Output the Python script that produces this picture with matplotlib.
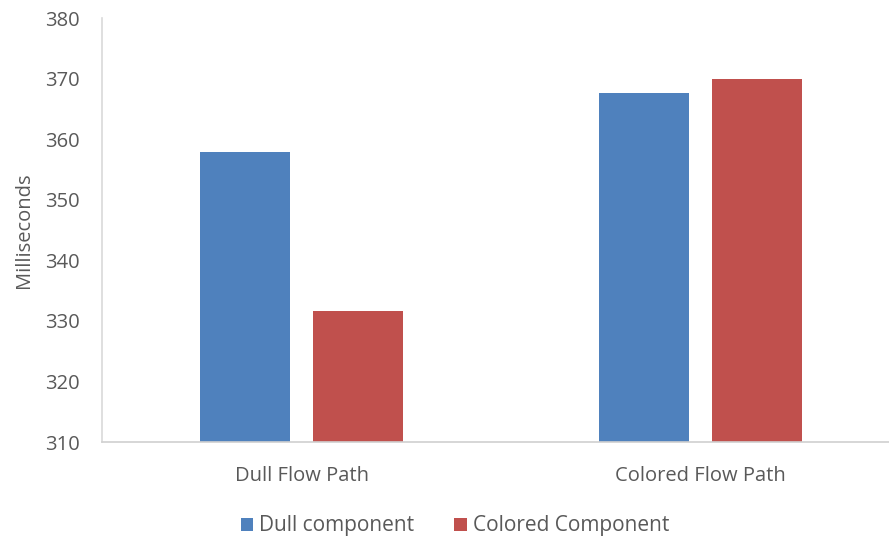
import numpy as np
import matplotlib.pyplot as plt

categories = ['Dull Flow Path', 'Colored Flow Path']
dull_component = [357.8, 367.7]
colored_component = [331.7, 369.85]
series_names = ['Dull component', 'Colored Component']

plt.rcParams['font.family'] = ['Open Sans', 'DejaVu Sans']
text_color = '#595959'

fig = plt.figure(figsize=(8.89, 5.4), dpi=100)
ax = fig.add_axes([102 / 889, 98 / 540, 787 / 889, 424 / 540])

x = np.arange(len(categories))
w = 0.224
off = 0.142
ax.bar(x - off, dull_component, w, color='#4F81BD', label=series_names[0], zorder=2)
ax.bar(x + off, colored_component, w, color='#C0504D', label=series_names[1], zorder=2)

ax.set_ylim(310, 380)
ax.set_yticks(range(310, 381, 10))
ax.set_xlim(-0.5, 1.5 - 11 / 398)
ax.set_xticks(x)
ax.set_xticklabels(categories)
ax.tick_params(axis='both', length=0, labelsize=14.5, colors=text_color)
ax.tick_params(axis='x', pad=17)
ax.tick_params(axis='y', pad=16)

for side in ['top', 'right']:
    ax.spines[side].set_visible(False)
ax.spines['left'].set_color('#D9D9D9')
ax.spines['bottom'].set_color('#D0D0D0')
ax.spines['left'].set_linewidth(1.2)
ax.spines['bottom'].set_linewidth(1.2)

ax.set_ylabel('Milliseconds', fontsize=14.5, color=text_color, labelpad=8)

fig.legend(loc='center', bbox_to_anchor=(455 / 889, 1 - 526 / 540), ncol=2,
           frameon=False, fontsize=15, handlelength=0.6, handleheight=0.6,
           handletextpad=0.3, columnspacing=1.9, labelcolor=text_color)

fig.savefig('out.png', dpi=100)
